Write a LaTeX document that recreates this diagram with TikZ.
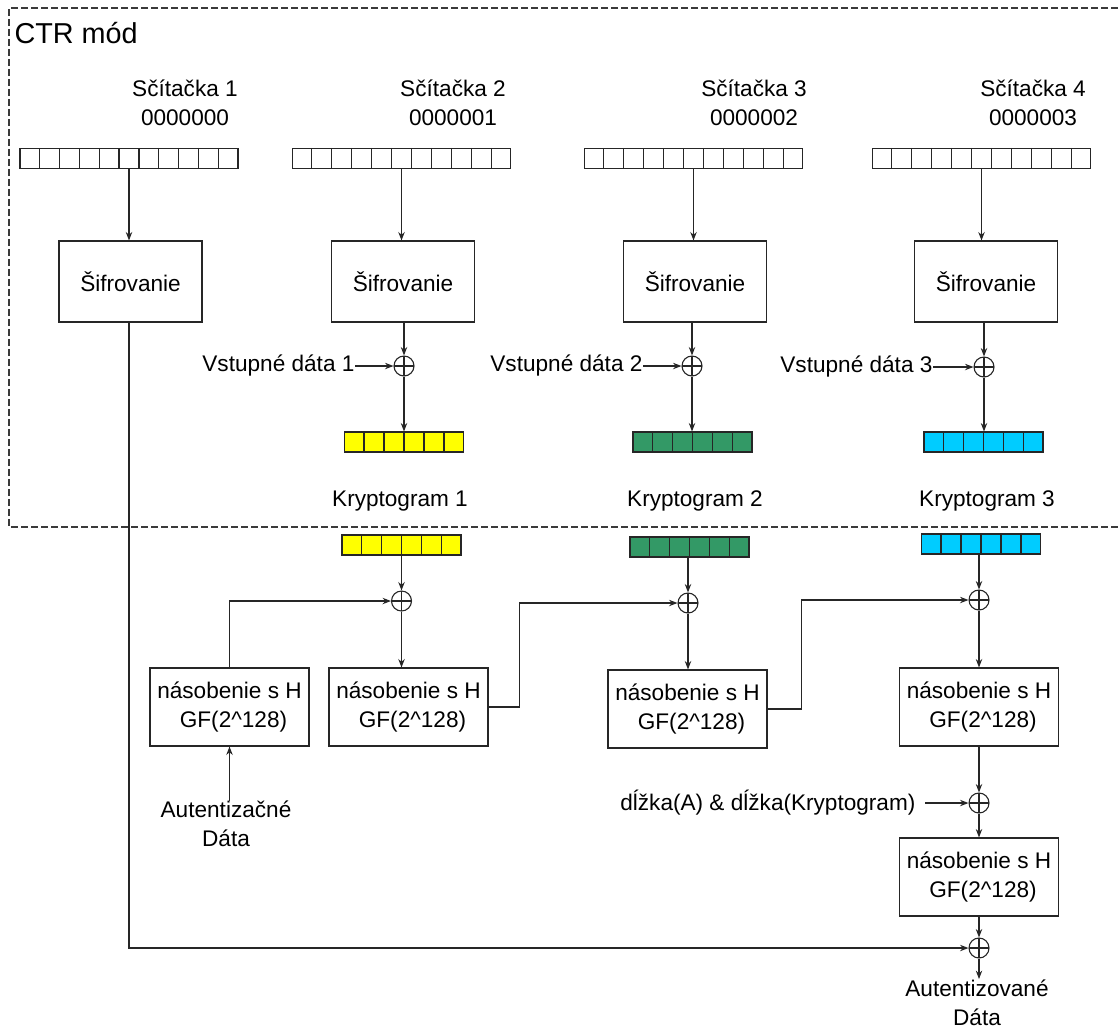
\documentclass[tikz,border=0pt]{standalone}
\usepackage{fontspec}
\setmainfont{Liberation Sans}
\usetikzlibrary{arrows.meta,calc}

\definecolor{lineclr}{HTML}{262626}
\definecolor{frameclr}{HTML}{3A3A3A}
\definecolor{ctyellow}{HTML}{FFFF00}
\definecolor{ctgreen}{HTML}{339966}
\definecolor{ctblue}{HTML}{00CCFF}

% vertical dividers of a register node: #1 node name, #2 number of cells
\newcommand\regcells[2]{%
  \pgfmathtruncatemacro\lastcell{#2-1}%
  \foreach \k in {1,...,\lastcell}{%
    \draw ($(#1.north west)!\k/#2!(#1.north east)$) -- ($(#1.south west)!\k/#2!(#1.south east)$);}}

\begin{document}
\begin{tikzpicture}[x=0.5pt,y=-0.5pt,
  line width=0.55pt, draw=lineclr,
  >={Stealth[length=4.2pt,width=3.2pt]},
  every node/.style={font=\fontsize{11.3}{14.5}\selectfont, inner sep=0pt, text=black},
  label/.style={align=center},
  ctrreg/.style={draw, fill=white, minimum width=109pt, minimum height=10pt},
  datareg/.style={draw, minimum width=59.5pt, minimum height=10pt},
  encbox/.style={draw, fill=white, minimum width=71.5pt, minimum height=40.5pt},
  mulbox/.style={draw, fill=white, minimum width=79.5pt, minimum height=39pt, align=center},
  xor/.style={draw, circle, fill=white, minimum size=10pt, inner sep=0pt,
    path picture={\draw (path picture bounding box.north) -- (path picture bounding box.south)
                        (path picture bounding box.west) -- (path picture bounding box.east);}},
  frame/.style={draw=frameclr, dash pattern=on 3.5pt off 1.5pt, line width=0.8pt}
]
\useasboundingbox (0,0) rectangle (1118,1030);

% CTR region
\draw[frame] (1118,8) -- (9,8) -- (9,527) -- (1118,527);
\node[anchor=west, font=\fontsize{14.4}{17}\selectfont] (ctr) at (14,33) {CTR mód};

% counters
\node[label] (lab1) at (185,103) {Sčítačka 1\\0000000};
\node[label] (lab2) at (453,103) {Sčítačka 2\\0000001};
\node[label] (lab3) at (754,103) {Sčítačka 3\\0000002};
\node[label] (lab4) at (1033,103) {Sčítačka 4\\0000003};

\node[ctrreg] (r1) at (129,158.5) {};
\node[ctrreg] (r2) at (401.5,158.5) {};
\node[ctrreg] (r3) at (693.5,158.5) {};
\node[ctrreg] (r4) at (981.5,158.5) {};
\regcells{r1}{11}\regcells{r2}{11}\regcells{r3}{11}\regcells{r4}{11}

% encryption blocks
\node[encbox] (e1) at (130.5,281.5) {Šifrovanie};
\node[encbox] (e2) at (403,281.5) {Šifrovanie};
\node[encbox] (e3) at (695,281.5) {Šifrovanie};
\node[encbox] (e4) at (986,281.5) {Šifrovanie};

\foreach \i in {1,...,4}{\draw[->] (r\i.south) -- (r\i.south |- e\i.north);}

% xor with plaintext
\node[xor] (x1) at (404,366) {};
\node[xor] (x2) at (692,366) {};
\node[xor] (x3) at (984,367) {};
\draw[->] (x1 |- e2.south) -- (x1.north);
\draw[->] (x2 |- e3.south) -- (x2.north);
\draw[->] (x3 |- e4.south) -- (x3.north);

\node[anchor=east] (in1) at (355,366) {Vstupné dáta 1};
\node[anchor=east] (in2) at (643,366) {Vstupné dáta 2};
\node[anchor=east] (in3) at (933,367) {Vstupné dáta 3};
\draw[->] (in1.east) -- (x1.west);
\draw[->] (in2.east) -- (x2.west);
\draw[->] (in3.east) -- (x3.west);

% ciphertext blocks
\node[datareg, fill=ctyellow] (c1) at (404,442) {};
\node[datareg, fill=ctgreen] (c2) at (692.5,442) {};
\node[datareg, fill=ctblue] (c3) at (983.5,442) {};
\regcells{c1}{6}\regcells{c2}{6}\regcells{c3}{6}
\draw[->] (x1.south) -- (x1 |- c1.north);
\draw[->] (x2.south) -- (x2 |- c2.north);
\draw[->] (x3.south) -- (x3 |- c3.north);

\node (k1) at (400,501) {Kryptogram 1};
\node (k2) at (695,501) {Kryptogram 2};
\node (k3) at (987,501) {Kryptogram 3};

% authentication part
\node[datareg, fill=ctyellow] (d1) at (401.5,545) {};
\node[datareg, fill=ctgreen] (d2) at (689.5,547) {};
\node[datareg, fill=ctblue] (d3) at (981,544) {};
\regcells{d1}{6}\regcells{d2}{6}\regcells{d3}{6}

\node[xor] (xa) at (401.5,601) {};
\node[xor] (xb) at (688,603) {};
\node[xor] (xc) at (979,600) {};
\node[xor] (xd) at (979,803) {};
\node[xor] (xe) at (979,948) {};

\draw[->] (xa |- d1.south) -- (xa.north);
\draw[->] (xb |- d2.south) -- (xb.north);
\draw[->] (xc |- d3.south) -- (xc.north);

\node[mulbox] (m1) at (229.5,707) {násobenie s H\\\hspace*{4pt}GF(2\^{}128)};
\node[mulbox] (m2) at (408.5,707) {násobenie s H\\\hspace*{4pt}GF(2\^{}128)};
\node[mulbox] (m3) at (687.5,709) {násobenie s H\\\hspace*{4pt}GF(2\^{}128)};
\node[mulbox] (m4) at (979,707) {násobenie s H\\\hspace*{4pt}GF(2\^{}128)};
\node[mulbox] (m5) at (979,877) {násobenie s H\\\hspace*{4pt}GF(2\^{}128)};

\node[label] (auth) at (226,824) {Autentizačné\\Dáta};
\draw[->] (m1 |- auth.north) -- (m1.south);
\draw[->] (m1.north) |- (xa.west);

\draw[->] (xa.south) -- (xa |- m2.north);
\draw[->] (m2.east) -- ++(31,0) |- (xb.west);
\draw[->] (xb.south) -- (xb |- m3.north);
\draw[->] (m3.east) -- ++(34,0) |- (xc.west);
\draw[->] (xc.south) -- (xc |- m4.north);
\draw[->] (m4.south) -- (xd.north);

\node[anchor=east] (len) at (916,803) {dĺžka(A) \& dĺžka(Kryptogram)};
\draw[->] ([xshift=4.5pt]len.east) -- (xd.west);
\draw[->] (xd.south) -- (m5.north);
\draw[->] (m5.south) -- (xe.north);

% encrypted counter 1 feeds the tag
\draw[->] (r1 |- e1.south) |- (xe.west);

\node[label, anchor=north] (out) at (977,979) {Autentizované\\Dáta};
\draw[->] (xe.south) -- (xe |- out.north);
\end{tikzpicture}
\end{document}
